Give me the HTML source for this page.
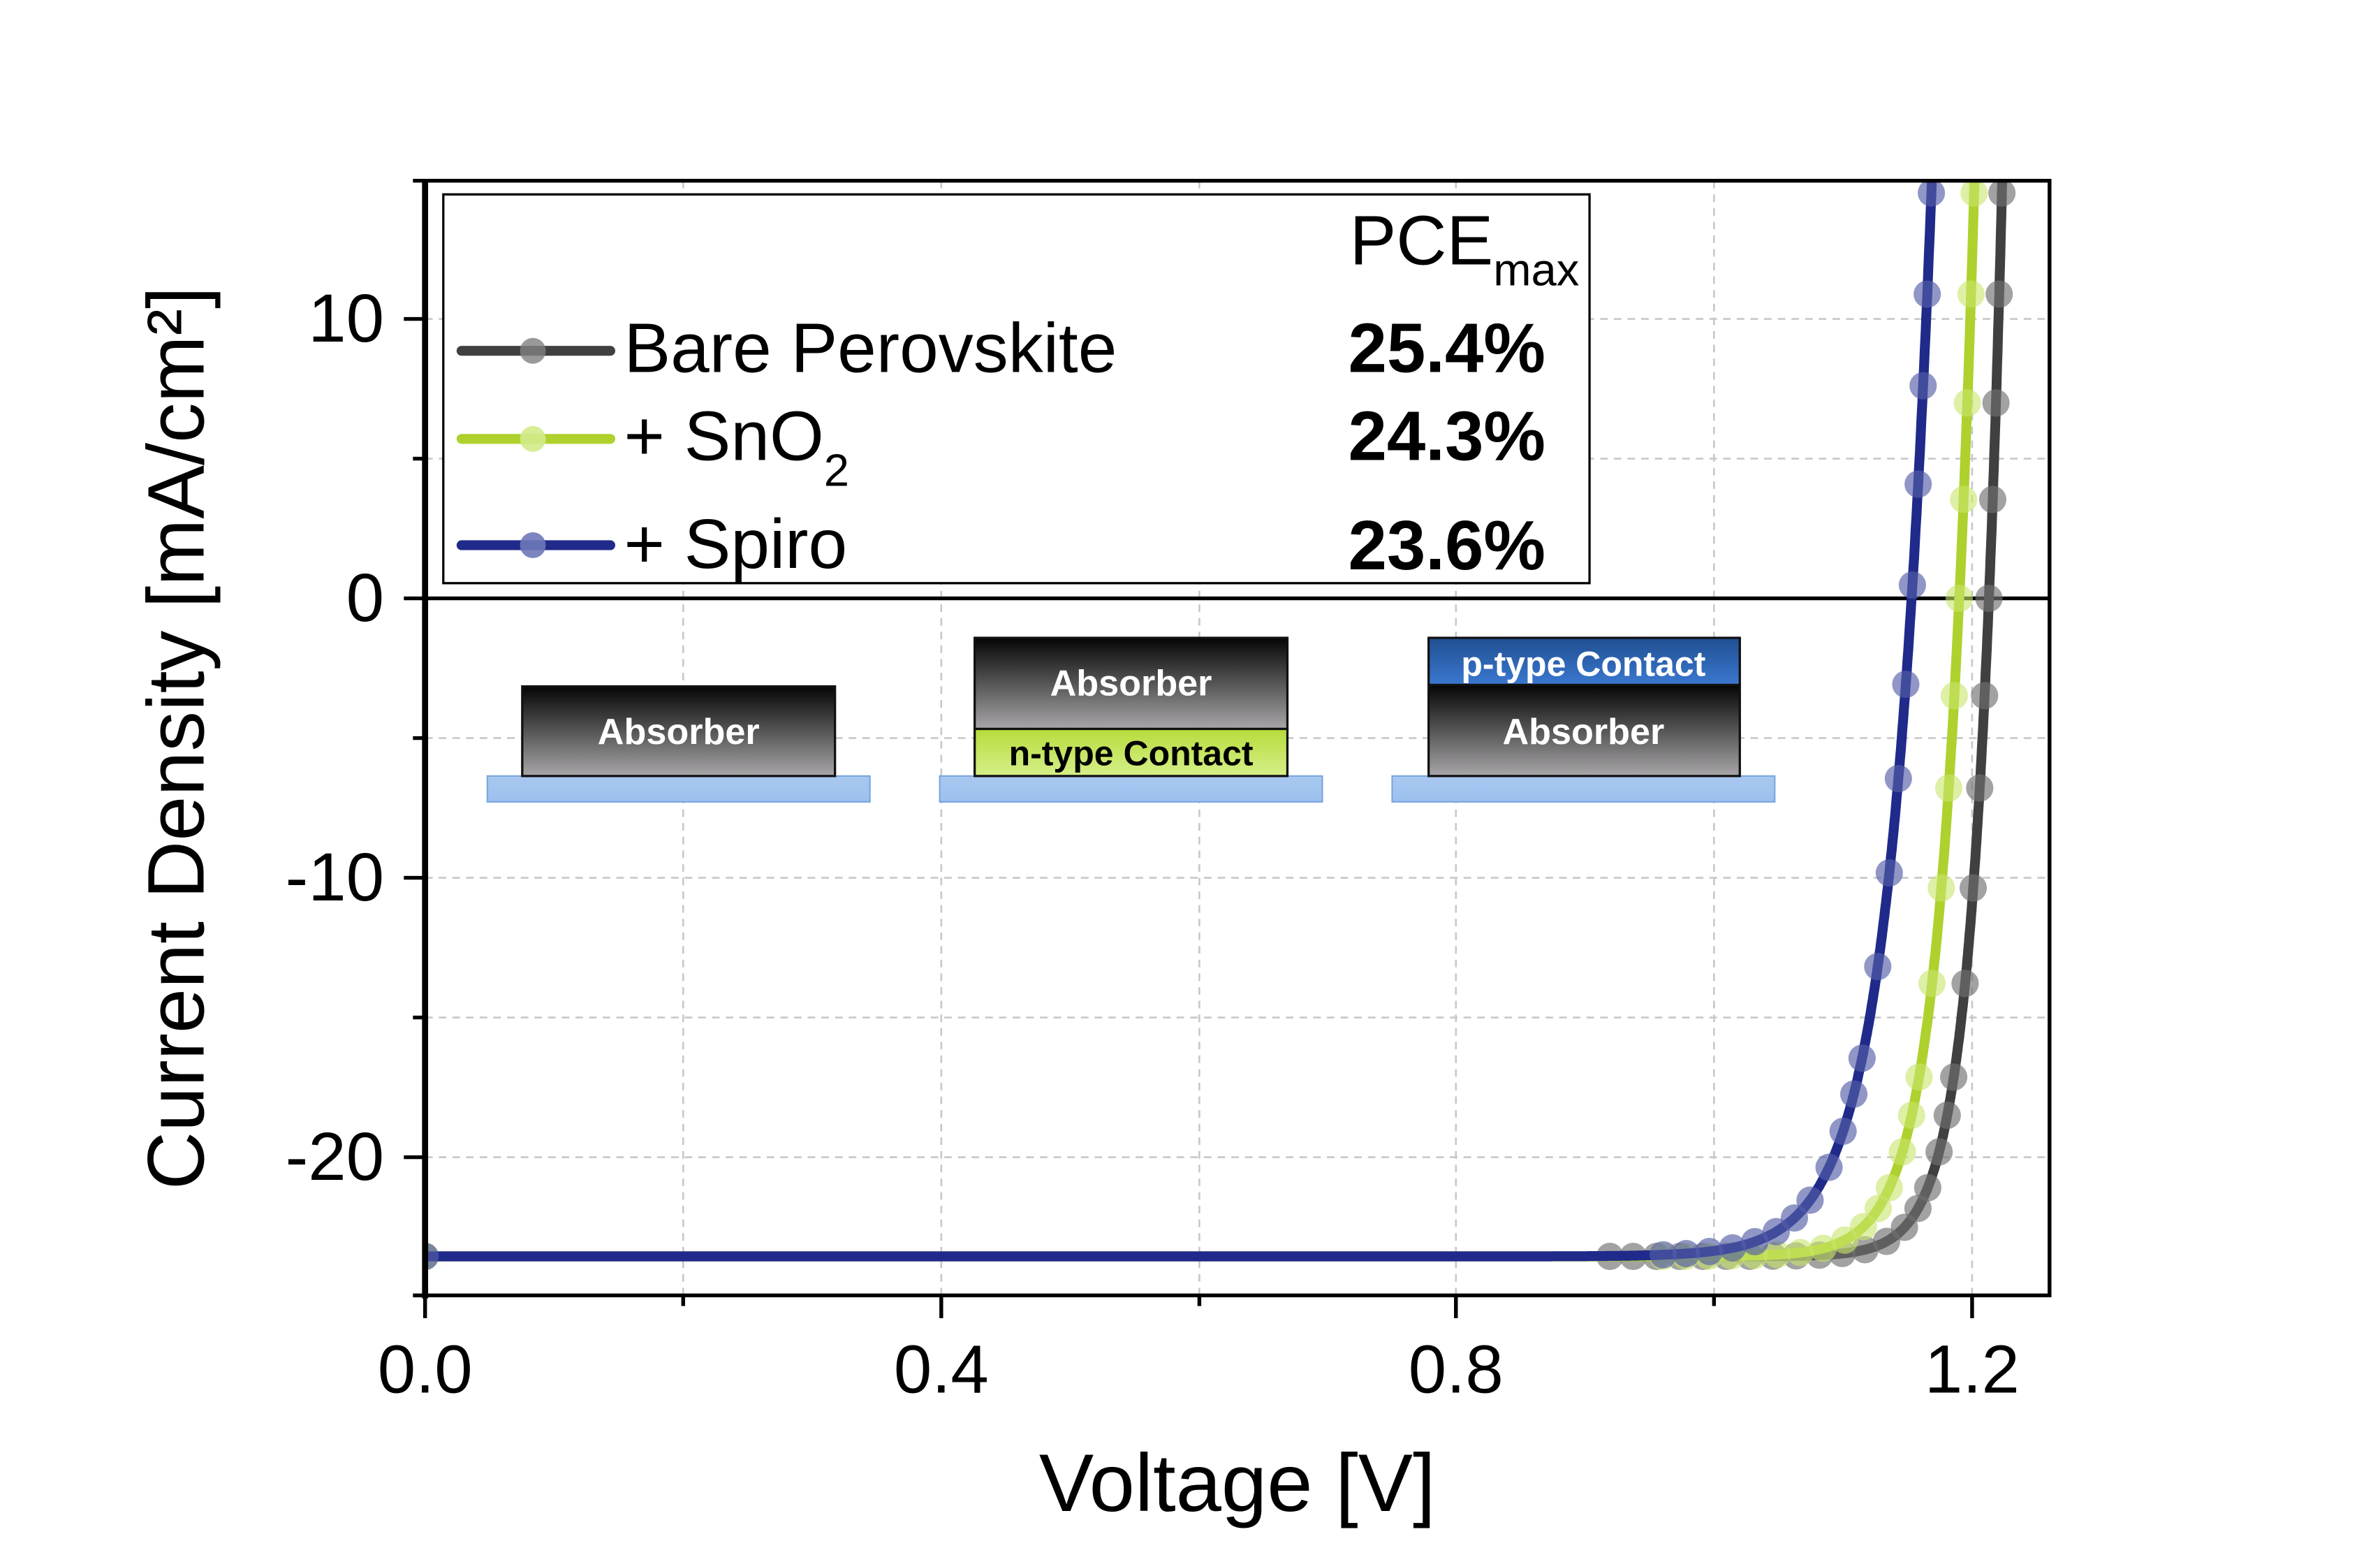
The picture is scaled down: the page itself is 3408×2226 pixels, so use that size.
<!DOCTYPE html>
<html><head><meta charset="utf-8">
<style>html,body{margin:0;padding:0;background:#fff;}svg{display:block}</style>
</head><body>
<svg id="s" width="3408" height="2226" viewBox="0 0 1552 1013.7" xmlns="http://www.w3.org/2000/svg" font-family="Liberation Sans, Arial, sans-serif">
<defs>
<linearGradient id="ab" x1="0" y1="0" x2="0" y2="1"><stop offset="0" stop-color="#050505"/><stop offset="1" stop-color="#a8a6a8"/></linearGradient>
<linearGradient id="sub" x1="0" y1="0" x2="0" y2="1"><stop offset="0" stop-color="#a9c8ef"/><stop offset="1" stop-color="#9cc0ee"/></linearGradient>
<linearGradient id="nt" x1="0" y1="0" x2="0" y2="1"><stop offset="0" stop-color="#b6dc3a"/><stop offset="1" stop-color="#d6ef8a"/></linearGradient>
<linearGradient id="pt" x1="0" y1="0" x2="0" y2="1"><stop offset="0" stop-color="#1f4f90"/><stop offset="1" stop-color="#3b78d0"/></linearGradient>
<clipPath id="cp"><rect x="280" y="119" width="1070" height="734"/></clipPath>
</defs>
<rect width="1552" height="1014" fill="#fff"/>
<g transform="scale(0.99)">
<g stroke="#c8c8c8" stroke-width="1.2" stroke-dasharray="5,4">
<line x1="450" y1="119" x2="450" y2="853"/><line x1="620" y1="119" x2="620" y2="853"/><line x1="790" y1="119" x2="790" y2="853"/><line x1="959" y1="119" x2="959" y2="853"/><line x1="1129" y1="119" x2="1129" y2="853"/><line x1="1299" y1="119" x2="1299" y2="853"/>
<line x1="280" y1="210" x2="1350" y2="210"/><line x1="280" y1="302" x2="1350" y2="302"/><line x1="280" y1="486" x2="1350" y2="486"/><line x1="280" y1="578" x2="1350" y2="578"/><line x1="280" y1="670" x2="1350" y2="670"/><line x1="280" y1="762" x2="1350" y2="762"/>
</g>
<rect x="321" y="511" width="252" height="17" fill="url(#sub)" stroke="#7aa7e0" stroke-width="1"/>
<rect x="344" y="452" width="206" height="59" fill="url(#ab)" stroke="#111" stroke-width="1.5"/>
<text x="447" y="490" fill="#fff" font-size="24" font-weight="bold" text-anchor="middle">Absorber</text>
<rect x="619" y="511" width="252" height="17" fill="url(#sub)" stroke="#7aa7e0" stroke-width="1"/>
<rect x="642" y="420" width="206" height="60" fill="url(#ab)" stroke="#111" stroke-width="1.5"/>
<rect x="642" y="480" width="206" height="31" fill="url(#nt)" stroke="#111" stroke-width="1.5"/>
<text x="745" y="458" fill="#fff" font-size="24" font-weight="bold" text-anchor="middle">Absorber</text>
<text x="745" y="504" fill="#000" font-size="23" font-weight="bold" text-anchor="middle">n-type Contact</text>
<rect x="917" y="511" width="252" height="17" fill="url(#sub)" stroke="#7aa7e0" stroke-width="1"/>
<rect x="941" y="451" width="205" height="60" fill="url(#ab)" stroke="#111" stroke-width="1.5"/>
<rect x="941" y="420" width="205" height="31" fill="url(#pt)" stroke="#111" stroke-width="1.5"/>
<text x="1043" y="490" fill="#fff" font-size="24" font-weight="bold" text-anchor="middle">Absorber</text>
<text x="1043" y="445" fill="#fff" font-size="23" font-weight="bold" text-anchor="middle">p-type Contact</text>
<line x1="280" y1="394" x2="1350" y2="394" stroke="#000" stroke-width="2.5"/>
<g id="curves" clip-path="url(#cp)"></g>
<rect x="292" y="128" width="755" height="256" fill="#fff" stroke="#000" stroke-width="1.5"/>
<line x1="304" y1="231" x2="402" y2="231" stroke="#404040" stroke-width="6.5" stroke-linecap="round"/><circle cx="351" cy="231" r="8.5" fill="#808080" opacity="0.8"/>
<line x1="304" y1="289" x2="402" y2="289" stroke="#aed12e" stroke-width="6.5" stroke-linecap="round"/><circle cx="351" cy="289" r="8.5" fill="#d3eb8a" opacity="0.9"/>
<line x1="304" y1="359" x2="402" y2="359" stroke="#202a8a" stroke-width="6.5" stroke-linecap="round"/><circle cx="351" cy="359" r="8.5" fill="#6e78b8" opacity="0.9"/>
<g font-size="46" fill="#000">
<text x="411" y="245">Bare Perovskite</text>
<text x="411" y="303">+ SnO<tspan font-size="30" dy="17">2</tspan></text>
<text x="411" y="374">+ Spiro</text>
<text x="889" y="174">PCE<tspan font-size="30" dy="14">max</tspan></text>
</g>
<g font-size="46" font-weight="bold" fill="#000">
<text x="888" y="245" textLength="130" lengthAdjust="spacingAndGlyphs">25.4%</text><text x="888" y="303" textLength="130" lengthAdjust="spacingAndGlyphs">24.3%</text><text x="888" y="375" textLength="130" lengthAdjust="spacingAndGlyphs">23.6%</text>
</g>
<rect x="280" y="119" width="1070" height="734" fill="none" stroke="#000" stroke-width="2.5"/>
<line x1="280" y1="118" x2="280" y2="855" stroke="#000" stroke-width="4"/>
<g stroke="#000" stroke-width="2.5">
<line x1="266" y1="210" x2="280" y2="210"/><line x1="266" y1="394" x2="280" y2="394"/><line x1="266" y1="578" x2="280" y2="578"/><line x1="266" y1="762" x2="280" y2="762"/>
<line x1="272" y1="119" x2="280" y2="119"/><line x1="272" y1="302" x2="280" y2="302"/><line x1="272" y1="486" x2="280" y2="486"/><line x1="272" y1="670" x2="280" y2="670"/><line x1="272" y1="853" x2="280" y2="853"/>
<line x1="280" y1="853" x2="280" y2="868"/><line x1="620" y1="853" x2="620" y2="868"/><line x1="959" y1="853" x2="959" y2="868"/><line x1="1299" y1="853" x2="1299" y2="868"/>
<line x1="450" y1="853" x2="450" y2="860"/><line x1="790" y1="853" x2="790" y2="860"/><line x1="1129" y1="853" x2="1129" y2="860"/>
</g>
<g font-size="45" fill="#000" text-anchor="end">
<text x="253" y="225">10</text><text x="253" y="409">0</text><text x="253" y="593">-10</text><text x="253" y="777">-20</text>
</g>
<g font-size="45" fill="#000" text-anchor="middle">
<text x="280" y="917">0.0</text><text x="620" y="917">0.4</text><text x="959" y="917">0.8</text><text x="1299" y="917">1.2</text>
</g>
<text x="815" y="995" font-size="54" text-anchor="middle">Voltage [V]</text>
<text transform="translate(134,486) rotate(-90)" font-size="53" text-anchor="middle">Current Density [mA/cm²]</text>
</g>
</svg>
<script>
(function(){
var g=document.getElementById('curves');var NS='http://www.w3.org/2000/svg';
function X(v){return 280+v*849.2;}function Y(j){return 394-j*18.4;}
var jsc=-23.55;
var S=[
 {voc:1.213,vt:0.021,lc:'#404040',mc:'#707070',mo:0.65,start:0.9},
 {voc:1.190,vt:0.024,lc:'#aed12e',mc:'#c8e56a',mo:0.6,start:0.96},
 {voc:1.153,vt:0.032,lc:'#202a8a',mc:'#5560a8',mo:0.65,start:0.96}];
S.forEach(function(s){
 function V(j){return s.voc+s.vt*Math.log(1-j/jsc);}
 var pts=[[X(0),Y(jsc)]];
 for(var e=-14;e<=Math.log(1-18/jsc)+0.001;e+=0.02){var j=jsc*(1-Math.exp(e));pts.push([X(V(j)),Y(j)]);}
 var d='M'+pts.map(function(p){return p[0].toFixed(1)+','+p[1].toFixed(1);}).join('L');
 var p=document.createElementNS(NS,'path');p.setAttribute('d',d);p.setAttribute('fill','none');p.setAttribute('stroke',s.lc);p.setAttribute('stroke-width','6.5');g.appendChild(p);
 function dot(x,y){var c=document.createElementNS(NS,'circle');c.setAttribute('cx',x);c.setAttribute('cy',y);c.setAttribute('r','9');c.setAttribute('fill',s.mc);c.setAttribute('opacity',s.mo);g.appendChild(c);}
 dot(X(0),Y(jsc));
 var xs=X(s.start), acc=0, last=null;
 for(var i=1;i<pts.length;i++){var q=pts[i];if(q[0]<xs)continue;
  if(!last){last=q;dot(q[0],q[1]);continue;}
  acc+=Math.hypot(q[0]-last[0],q[1]-last[1]);last=q;
  var jv=(394-q[1])/18.4;
  var st=(jv<-21)?15:(jv<-16?24:60);
  if(acc>=st){dot(q[0],q[1]);acc=0;}
 }
});
})();
</script>
</body></html>
